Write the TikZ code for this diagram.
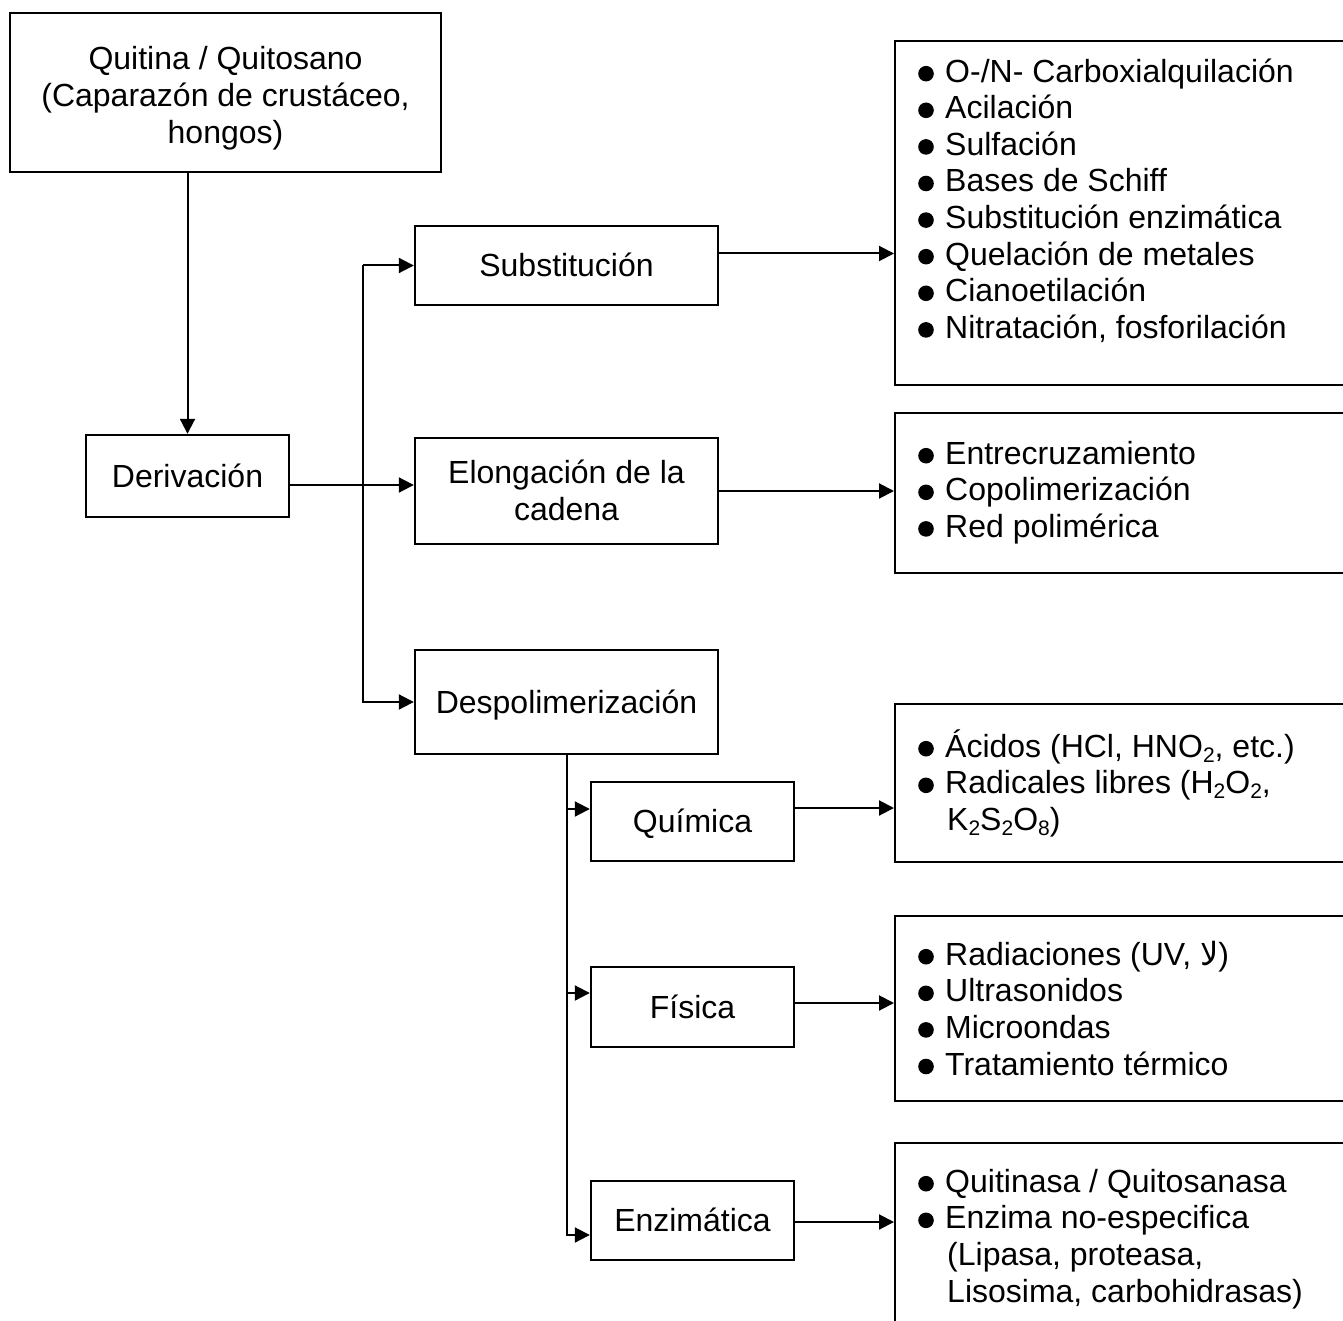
\documentclass[tikz,border=0pt]{standalone}
\usepackage{fontspec}
\setmainfont{Liberation Sans}
\newfontfamily\arabicfont[Script=Arabic]{DejaVu Sans}
\TeXXeTstate=1
\usetikzlibrary{arrows.meta,calc}
\newcommand\fs{\fontsize{32pt}{36.6pt}\selectfont}
\newcommand\cs{\rule[-7pt]{0pt}{36pt}}
\newcommand\csa{\rule[-7pt]{0pt}{42pt}}
\newcommand\ls{\rule{0pt}{31pt}}
\newcommand\bul{\makebox[27pt][l]{\tikz[baseline=0pt]\fill (7.8pt,8.5pt) circle (7.8pt);}}
\newcommand\sub[1]{\raisebox{-5pt}{\fontsize{21pt}{21pt}\selectfont #1}}
\newcommand\cont{\hspace*{29pt}}
\tikzset{
  box/.style={draw, line width=2.4pt, inner sep=0pt, align=center, font=\fs},
  lbox/.style={draw, line width=2.4pt, inner sep=0pt, anchor=north west},
  ltext/.style={inner sep=0pt, anchor=north west, align=left, font=\fs},
  arr/.style={line width=2pt, -{Triangle[length=15pt,width=15pt]}}
}
\begin{document}
\begin{tikzpicture}[x=1pt,y=-1pt]
\useasboundingbox (0,0) rectangle (1343,1321);
\fill[white] (0,0) rectangle (1343,1321);
\clip (0,0) rectangle (1343,1321);

% main boxes
\node[box, minimum width=431pt, minimum height=159pt] (quit) at (225.5,92.5)
  {\csa Quitina / Quitosano\\\cs(Caparazón de crustáceo,\\\cs hongos)};
\node[box, minimum width=203pt, minimum height=82pt] (deriv) at (187.5,476) {\cs Derivación};
\node[box, minimum width=303pt, minimum height=79pt] (subs) at (566.5,265.5) {\cs Substitución};
\node[box, minimum width=303pt, minimum height=106pt] (elong) at (566.5,491) {\cs Elongación de la\\\cs cadena};
\node[box, minimum width=303pt, minimum height=104pt] (despol) at (566.5,702) {\cs Despolimerización};
\node[box, minimum width=203pt, minimum height=79pt] (quim) at (692.5,821.5) {\cs Química};
\node[box, minimum width=203pt, minimum height=80pt] (fis) at (692.5,1007) {\cs Física};
\node[box, minimum width=203pt, minimum height=79pt] (enz) at (692.5,1220.5) {\cs Enzimática};

% list boxes
\node[lbox, minimum width=470pt, minimum height=344pt] (l1) at (894,40) {};
\node[lbox, minimum width=470pt, minimum height=160pt] (l2) at (894,412) {};
\node[lbox, minimum width=470pt, minimum height=158pt] (l3) at (894,703) {};
\node[lbox, minimum width=470pt, minimum height=185pt] (l4) at (894,915) {};
\node[lbox, minimum width=470pt, minimum height=300pt] (l5) at (894,1142) {};

% list texts
\node[ltext] (t1) at (918,51) {\ls\bul O-/N- Carboxialquilación\\
  \bul Acilación\\
  \bul Sulfación\\
  \bul Bases de Schiff\\
  \bul Substitución enzimática\\
  \bul Quelación de metales\\
  \bul Cianoetilación\\
  \bul Nitratación, fosforilación};
\node[ltext] (t2) at (918,433) {\ls\bul Entrecruzamiento\\
  \bul Copolimerización\\
  \bul Red polimérica};
\node[ltext] (t3) at (918,726) {\ls\bul Ácidos (HCl, HNO\sub{2}, etc.)\\
  \bul Radicales libres (H\sub{2}O\sub{2},\\
  \cont K\sub{2}S\sub{2}O\sub{8})};
\node[ltext] (t4) at (918,934) {\ls\bul Radiaciones (UV, {\arabicfont\beginR لا\endR})\\
  \bul Ultrasonidos\\
  \bul Microondas\\
  \bul Tratamiento térmico};
\node[ltext] (t5) at (918,1161) {\ls\bul Quitinasa / Quitosanasa\\
  \bul Enzima no-especifica\\
  \cont(Lipasa, proteasa,\\
  \cont Lisosima, carbohidrasas)};

% connectors
\draw[arr] (deriv.north |- quit.south) -- (deriv.north);

\coordinate (d1) at ($(deriv.east)+(0,9)$);
\draw[arr] (d1) -- (d1 -| elong.west);

\coordinate (tr) at ($(subs.west)+(-51,0)$);
\draw[arr] (tr) -- (subs.west);
\draw[arr] (tr) |- (despol.west);

\coordinate (s1) at ($(subs.east)+(0,-12)$);
\draw[arr] (s1) -- (s1 -| l1.west);
\draw[arr] (elong.east) -- (elong.east -| l2.west);

\coordinate (q1) at ($(quim.west)+(0,-12.5)$);
\coordinate (f1) at ($(fis.west)+(0,-14)$);
\coordinate (e1) at ($(enz.west)+(0,14.5)$);
\draw[arr] (despol.south) |- (q1);
\draw[arr] (despol.south) |- (f1);
\draw[arr] (despol.south) |- (e1);

\coordinate (q2) at ($(quim.east)+(0,-13.5)$);
\draw[arr] (q2) -- (q2 -| l3.west);
\coordinate (f2) at ($(fis.east)+(0,-4)$);
\draw[arr] (f2) -- (f2 -| l4.west);
\coordinate (e2) at ($(enz.east)+(0,1.5)$);
\draw[arr] (e2) -- (e2 -| l5.west);
\end{tikzpicture}
\end{document}
